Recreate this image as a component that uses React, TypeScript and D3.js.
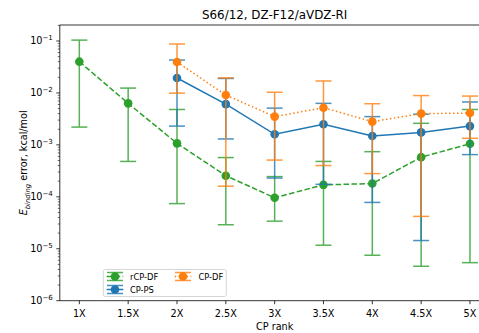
import React from 'react';
import * as d3 from 'd3';

const categories = ['1X', '1.5X', '2X', '2.5X', '3X', '3.5X', '4X', '4.5X', '5X'];

// rCP-DF (green, dashed)
const rcpdfValue = [0.040, 0.0063, 0.00107, 2.55e-4, 9.6e-5, 1.7e-4, 1.8e-4, 5.8e-4, 1.05e-3];
const rcpdfLow = [0.0022, 4.8e-4, 7.4e-5, 2.9e-5, 3.4e-5, 1.17e-5, 7.5e-6, 4.6e-6, 5.4e-6];
const rcpdfHigh = [0.104, 0.0124, 0.0048, 5.7e-4, 2.45e-4, 4.8e-4, 7.4e-4, 2.6e-3, 4.8e-3];

// CP-PS (blue, solid)
const cppsValue = [null, null, 0.0194, 0.0061, 0.0016, 0.0025, 0.00148, 0.00174, 0.0023];
const cppsLow = [null, null, 0.0023, 0.0013, 2.3e-4, 1.74e-4, 7.8e-5, 1.44e-5, 6.5e-4];
const cppsHigh = [null, null, 0.043, 0.019, 0.0051, 0.0063, 0.0035, 0.0039, 0.0067];

// CP-DF (orange, dotted)
const cpdfValue = [null, null, 0.0394, 0.0091, 0.0035, 0.0052, 0.0028, 0.0040, 0.0041];
const cpdfLow = [null, null, 0.0099, 1.6e-4, 5.1e-4, 4.0e-4, 2.8e-4, 4.2e-5, 0.00134];
const cpdfHigh = [null, null, 0.0875, 0.0195, 0.0103, 0.017, 0.0062, 0.0089, 0.0087];

const yTickExps = [-6, -5, -4, -3, -2, -1];

const W = 479;
const H = 333;
const left = 59.8;
const right = 489.5;
const top = 25;
const bottom = 300.7;
const FONT = 'DejaVu Sans, sans-serif';

const x = d3.scaleLinear().domain([-0.4, categories.length - 1 + 0.4]).range([left, right]);
const y = d3.scaleLog().domain([1e-6, Math.pow(10, -0.692)]).range([bottom, top]);

type Series = {
  name: string;
  color: string;
  dash: string | undefined;
  value: (number | null)[];
  low: (number | null)[];
  high: (number | null)[];
};

const series: Series[] = [
  { name: 'rCP-DF', color: '#2ca02c', dash: '5.55 2.4', value: rcpdfValue, low: rcpdfLow, high: rcpdfHigh },
  { name: 'CP-PS', color: '#1f77b4', dash: undefined, value: cppsValue, low: cppsLow, high: cppsHigh },
  { name: 'CP-DF', color: '#ff7f0e', dash: '1.5 2.475', value: cpdfValue, low: cpdfLow, high: cpdfHigh },
];

const CAP = 8;
const R = 4.3;

function SeriesMarks({ s }: { s: Series }) {
  const pts = s.value.map((v, i) => ({ i, v }));
  const line = d3
    .line<{ i: number; v: number | null }>()
    .defined((d) => d.v != null)
    .x((d) => x(d.i))
    .y((d) => y(d.v as number));
  return (
    <g>
      {pts.map((d) =>
        d.v == null ? null : (
          <g key={d.i} stroke={s.color} strokeWidth={1.5} opacity={0.8}>
            <line x1={x(d.i)} x2={x(d.i)} y1={y(s.low[d.i] as number)} y2={y(s.high[d.i] as number)} />
            <line x1={x(d.i) - CAP} x2={x(d.i) + CAP} y1={y(s.low[d.i] as number)} y2={y(s.low[d.i] as number)} />
            <line x1={x(d.i) - CAP} x2={x(d.i) + CAP} y1={y(s.high[d.i] as number)} y2={y(s.high[d.i] as number)} />
          </g>
        )
      )}
      <path d={line(pts) || ''} fill="none" stroke={s.color} strokeWidth={1.5} strokeDasharray={s.dash} />
      {pts.map((d) =>
        d.v == null ? null : <circle key={'c' + d.i} cx={x(d.i)} cy={y(d.v)} r={R} fill={s.color} />
      )}
    </g>
  );
}

function LegendHandle({ s, cx, cy }: { s: Series; cx: number; cy: number }) {
  const hl = 8.3;
  return (
    <g>
      <line x1={cx - hl} x2={cx + hl} y1={cy} y2={cy} stroke={s.color} strokeWidth={1.5} strokeDasharray={s.dash} />
      <g stroke={s.color} strokeWidth={1.5} opacity={0.8}>
        <line x1={cx} x2={cx} y1={cy - 4} y2={cy + 4} />
        <line x1={cx - CAP} x2={cx + CAP} y1={cy - 4} y2={cy - 4} />
        <line x1={cx - CAP} x2={cx + CAP} y1={cy + 4} y2={cy + 4} />
      </g>
      <circle cx={cx} cy={cy} r={R} fill={s.color} />
    </g>
  );
}

export default function App() {
  const minorTicks: number[] = [];
  for (let e = -6; e <= -1; e++) {
    for (let m = 2; m <= 9; m++) {
      const v = m * Math.pow(10, e);
      if (v <= y.domain()[1]) minorTicks.push(v);
    }
  }
  const midX = (left + right) / 2;
  const midY = (top + bottom) / 2;
  return (
    <svg
      width={W}
      height={H}
      style={{ position: 'absolute', left: 0, top: 0, background: '#fff' }}
      fontFamily={FONT}
    >
      <rect x={0} y={0} width={W} height={H} fill="#fff" />
      <defs>
        <clipPath id="plotclip">
          <rect x={left} y={top} width={right - left} height={bottom - top} />
        </clipPath>
      </defs>
      <text x={midX} y={19} textAnchor="middle" fontSize={11.9} fill="#000">
        S66/12, DZ-F12/aVDZ-RI
      </text>

      <g clipPath="url(#plotclip)">
        {series.map((s) => (
          <SeriesMarks key={s.name} s={s} />
        ))}
      </g>

      {/* spines */}
      <g stroke="#000" strokeWidth={0.8} fill="none">
        <line x1={left} x2={left} y1={top} y2={bottom} />
        <line x1={left} x2={right} y1={bottom} y2={bottom} />
        <line x1={left} x2={right} y1={top} y2={top} />
        <line x1={right} x2={right} y1={top} y2={bottom} />
      </g>

      {/* x ticks */}
      {categories.map((c, i) => (
        <g key={c}>
          <line x1={x(i)} x2={x(i)} y1={bottom} y2={bottom + 3.5} stroke="#000" strokeWidth={0.8} />
          <text x={x(i)} y={316.5} textAnchor="middle" fontSize={9.7} fill="#000">
            {c}
          </text>
        </g>
      ))}
      <text x={midX} y={330} textAnchor="middle" fontSize={9.7} fill="#000">
        CP rank
      </text>

      {/* y ticks */}
      {minorTicks.map((v) => (
        <line key={v} x1={left - 2} x2={left} y1={y(v)} y2={y(v)} stroke="#000" strokeWidth={0.6} />
      ))}
      {yTickExps.map((e) => (
        <g key={e}>
          <line x1={left - 3.5} x2={left} y1={y(Math.pow(10, e))} y2={y(Math.pow(10, e))} stroke="#000" strokeWidth={0.8} />
          <text x={left - 7} y={y(Math.pow(10, e)) + 3.5} textAnchor="end" fontSize={9.7} fill="#000">
            10
            <tspan dy={-4.5} fontSize={7}>
              {'\u2212' + Math.abs(e)}
            </tspan>
          </text>
        </g>
      ))}
      <text
        transform={`translate(27,${midY}) rotate(-90)`}
        textAnchor="middle"
        fontSize={9.7}
        fill="#000"
      >
        <tspan fontStyle="italic">E</tspan>
        <tspan fontStyle="italic" fontSize={6.8} dy={2.5}>
          binding
        </tspan>
        <tspan dy={-2.5}> error, kcal/mol</tspan>
      </text>

      {/* legend */}
      <rect x={103.3} y={269.5} width={123} height={27} rx={2} ry={2} fill="#fff" fillOpacity={0.8} stroke="#ccc" strokeWidth={0.8} />
      <LegendHandle s={series[0]} cx={115} cy={276.5} />
      <text x={130} y={279.5} fontSize={8.3} fill="#000">
        {series[0].name}
      </text>
      <LegendHandle s={series[1]} cx={115} cy={289.5} />
      <text x={130} y={292.5} fontSize={8.3} fill="#000">
        {series[1].name}
      </text>
      <LegendHandle s={series[2]} cx={183} cy={276.5} />
      <text x={198.5} y={279.5} fontSize={8.3} fill="#000">
        {series[2].name}
      </text>
    </svg>
  );
}
